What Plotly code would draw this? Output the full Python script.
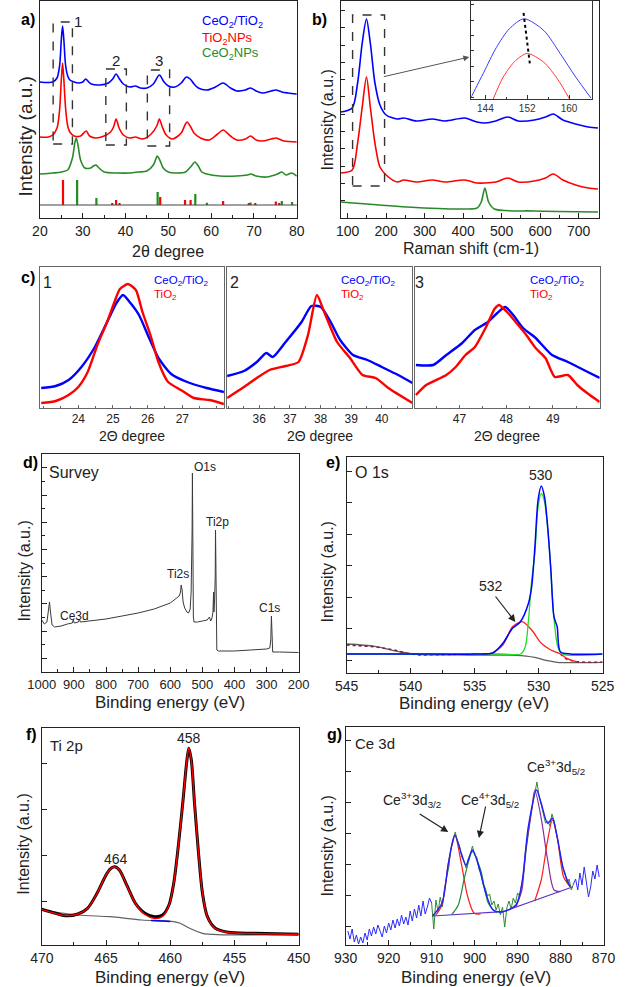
import plotly.graph_objects as go

# ---------------- DATA ----------------
# a) XRD patterns (2theta, intensity a.u.)
a_x_blue = [20,21,22,23,24,24.6,25.0,25.3,25.6,26.0,26.5,27,28,29,30,30.7,31.4,32,34,36,37.0,37.8,38.6,39.5,41,42.3,43.5,45,46.5,47.9,49,50,51.5,53,54.2,55.1,56,57,59,61,62.8,64.5,66,68,69.2,70.5,72,74,75.1,76.5,78,80]
a_blue = [136,135.5,135.5,136,140,152,178,192,178,153,142,138,136,135,136,139,136,134,133,135,139,144,139,134,131,132,130,130,134,143,136,132,131,135,141,139,134,130,128,131,135,130,127,128,130,127,125,127,128,126,125,124]
a_x_red = [20,22,23,24,24.6,25.0,25.3,25.6,26.0,26.5,27,28,29.5,30.8,31.6,33,35,36.5,37.2,37.8,38.5,39.5,41,42.3,44,46,47.3,47.9,48.6,49.5,51,53,54,54.4,55.1,56,57.5,59.5,61.5,62.8,64.5,66,68,69.2,70.5,72,74,75.2,77,80]
a_red = [81,81,83,90,108,138,155,138,110,92,86,82,82,87,82,80,82,86,91,99,90,83,80,81,79,84,92,99,91,83,79,85,94,96,92,85,80,78,84,88,82,78,79,82,78,77,79,80,77,76]
a_x_green = [20,23,25,26.5,27.6,28.2,28.5,28.9,29.5,30.5,31.8,32.5,33.1,33.8,35,38,41,43,45,46.5,47.0,47.4,48,48.8,50,52,54,55.4,56.2,57,57.8,59,62,66,68.5,69.3,70.5,73,75.5,76.5,77.5,78.8,80]
a_green = [44,45,46,48,60,76,80,73,58,50,50,52,53,50,46,45,45,46,47,53,58,62,58,50,46,45,46,52,56,52,46,44,42,42,43,44,42,41,44,46,43,45,42]
ref_base = 13
ref_ti_pos = [25.4,36.9,37.8,38.6,48.1,53.9,55.2,62.8,68.8,70.3,75.1,75.9]
ref_ti_h = [25,2,5,2,8,5,5,4,2,2,3.5,2]
ref_ce_pos = [28.7,33.2,47.5,56.3,59.0,69.2,76.5,78.9]
ref_ce_h = [25,7,13,11,2.3,2.5,4,3]
a_boxes = [[23.1,27.6,74,196],[35.4,40.2,73,149],[45.1,50.3,72,148]]
a_box_labels = [["1",29.0,196],["2",37.7,157],["3",47.8,157]]

# b) Raman spectra
b_x = [83,112,126,138,149,159,171,184,200,229,246,279,320,353,404,436,457,485,516,543,585,614,634,659,692,725,750]
b_blue = [106,110,135,175,199,175,135,113,103,99,100,97,99,97,100,96,95,97,101,97,98,101,104,98,94,91,90]
b_red = [45,48,75,111,141,111,75,51,43,36,38,36,38,36,38,35,35,36,40,36,37,40,44,38,33,30,29]
b_x_green = [83,254,400,436,447,456.5,466,481,585,750]
b_green = [16,11,9,10,16,30,16,9,7,6]
b_box = [113,196,32,203]
in_x_blue = [141.3,143.7,146.1,148.6,151.4,155.2,158.3,161.3,164.2]
in_blue = [2,27,52,71,81,69,46,22,1]
in_x_red = [145.5,147.4,149.8,152.0,155.2,157.7,160.1]
in_red = [0,22,39,46,37,21,0]
in_shift_x = [151.3,152.5]
in_shift_y = [87,36]

# c) zoomed XRD regions
c1_x_blue = [22.93,23.35,23.72,24.09,24.46,24.83,25.10,25.29,25.48,25.75,26.03,26.31,26.68,27.14,27.70,28.2]
c1_blue = [20,22,28,41,60,86,105,113,106,93,71,50,34,26,20,16]
c1_x_red = [22.93,23.35,23.72,24.0,24.27,24.55,24.83,25.01,25.20,25.43,25.66,25.85,26.08,26.31,26.59,26.96,27.33,27.79,28.2]
c1_red = [5,7,13,21,36,63,86,103,119,124,118,96,73,46,26,18,10,8,4]
c2_x_blue = [34.95,35.50,35.92,36.23,36.44,36.86,37.38,37.70,38.01,38.33,38.64,39.06,39.53,40.0,40.53,41.0]
c2_blue = [32,37,46,55,51,66,86,102,101,86,68,53,48,41,33,25]
c2_x_red = [34.95,35.50,35.92,36.34,36.86,37.28,37.59,37.88,38.12,38.54,38.96,39.37,39.80,40.21,41.0]
c2_red = [10,21,30,38,42,46,73,113,96,66,50,33,30,20,5]
c3_x_blue = [46.07,46.44,46.72,47.06,47.33,47.61,47.81,47.98,48.15,48.36,48.63,48.98,49.32,49.66,50.0]
c3_blue = [43,43,53,65,78,86,95,101,93,80,70,53,46,38,30]
c3_x_red = [46.07,46.29,46.72,46.92,47.13,47.33,47.57,47.75,47.85,47.93,48.02,48.22,48.43,48.63,48.84,49.04,49.32,49.52,49.73,50.0]
c3_red = [13,23,33,41,53,61,81,99,103,100,96,85,73,60,50,31,33,23,15,6]

# d) XPS survey
d_be = [1000,992,984,979,976,973,968,960,940,920,905,902,899,886,883,880,850,800,750,700,650,600,580,572,568,566,563,560,555,548,543,538,535,533,532,531,530,529,528,526,515,500,485,478,474,470,467,465,464,462,460,459,458,457,455,450,400,350,300,290,287,285,283,281,260,230,200]
d_int = [52,48,50,60,70,60,47,45,46,48,49,52,49,50,53,50,51,53,56,59,63,69,74,76,80,87,82,70,64,60,59,63,80,115,140,199,140,90,55,50,50,51,52,55,51,54,60,80,60,72,95,142,80,40,22,21,21,22,23,24,32,56,30,20,20,19.7,19.5]
d_labels = [["O1s",199,467],["Ti2p",212,522],["Ti2s",171,574],["Ce3d",63,616],["C1s",267,608]]

# e) O 1s
e_x_env = [545,540,535,533.54,532.79,532.04,531.42,530.79,530.54,530.29,530.04,529.79,529.54,529.29,529.04,528.80,528.55,528.30,527.5,525]
e_env = [19,19,19,20.3,29.7,44.7,51.3,69.7,86.3,126,173,187,176.3,146.3,103,56.3,46.3,21.3,19,19]
e_x_green = [545,533,531.4,531.04,530.79,530.54,530.29,530.04,529.79,529.54,529.17,528.80,528.50,528.17,525]
e_green = [19,19,19,26.3,53,93,119.7,166.3,179.7,171.3,126.3,55,26.3,19,19]
e_x_red = [534.5,533.79,532.79,532.04,531.29,530.54,529.79,529.04,528.30,527.80,527.05]
e_red = [19,19,28,46.3,51.3,43,29.7,23,19,14.7,11.3]
e_x_raw = [545,542.8,541.3,540.3,539.3,537,535,None,528.3,527.8,527.05,526.3,525]
e_raw = [28,26.3,23,19.7,18,18.5,19,None,19,13.7,11.3,10.7,10.7]
e_x_bg = [545,542.8,540.8,539.5,535.3,531.8,530.3,529.3,528.55,525]
e_bg = [29,26.7,21,18.7,18,17.7,15.7,12.3,10.7,10.7]

# f) Ti 2p
f_x = [470,468.93,468.18,467.19,466.44,465.70,465.07,464.70,464.33,463.96,463.33,462.71,461.97,461.22,460.60,460.10,459.73,459.35,458.98,458.73,458.56,458.36,458.11,457.8,457.49,457.11,456.49,455.50,453.51,450]
f_raw = [35.7,31.7,29.3,31,36.7,51.7,68.3,75.7,78.3,75,58.3,41.7,31.7,28.3,30,40,61.7,101.7,148,181.7,196.7,185,141.7,92,51.7,28.3,16.7,12.7,11.7,10.7]
f_fit = [35.7,31.5,29.5,31,36.5,51.5,68.5,75.5,78.3,75,58,41.5,30.5,26.5,28.5,39.5,61.5,101.5,148,182,197,185,141.5,92,51.5,28,16.5,12.5,11.5,10.7]
f_x_bg = [470,467.19,464.70,462.21,459.73,459.23,458.48,457.49,450]
f_bg = [35,30,28.3,25,23.3,21.7,16.7,11.7,10.7]
f_x_comp = [461.5,461.0,460.5,460.0]
f_comp = [24.5,24.2,23.9,23.6]

# g) Ce 3d
g_x_noise_l = [929.5,929.0,928.5,928.0,927.5,927.0,926.5,926.0,925.5,925.0,924.5,924.0,923.5,923.0,922.5,922.0,921.5,921.0,920.5,920.0,919.5,919.0,918.5,918.0,917.5,917.0,916.5,916.0,915.5,915.0,914.5,914.0,913.5,913.0,912.5,912.0,911.5,911.0,910.5,910.0]
g_noise_l = [14,6,16,3,10,1,8,2,12,5,16,9,18,11,20,13,8,19,12,22,15,25,17,26,19,30,21,28,20,34,24,36,27,40,29,44,31,38,47,42]
g_x_noise_m = [910.0,909.5,909.0,908.5,908.0,907.5,907.0,906.5,906.0,905.5,905.0,904.5,904.0,903.5,903.0,902.5,902.0,901.5,901.0,900.5,900.0,899.5,899.0,898.5,898.0,897.5,897.0,896.5,896.0,895.5,895.0,894.5,894.0,893.5,893.0,892.5,892.0,891.5,891.0,890.5,890.0,889.5,889.0,888.5,888.0,887.5,887.0,886.5,886.0,885.5,885.0,884.5,884.0,883.5,883.0,882.5,882.0,881.5,881.0,880.5,880.0,879.5,879.0,878.5,878.0,877.5,877.0]
g_noise_m = [42,16,45,33,48,38,57,66,78,96,103,113,104,99,88,84,77,86,91,99,90,88,76,71,60,57,49,51,40,44,35,41,30,38,18,37,44,36,47,42,52,49,63,74,95,112,128,140,150,163,149,140,132,122,124,119,131,124,112,100,92,78,73,62,66,55,61]
g_x_noise_r = [877.0,876.5,876.0,875.5,875.0,874.5,874.0,873.5,873.0,872.5,872.0,871.5,871.0]
g_noise_r = [61,66,55,72,60,78,63,48,58,74,66,80,68]
g_x_env = [909.8,907.6,906.1,904.6,903.1,902.0,900.5,899.0,897.5,895.7,893.4,890.4,889.0,887.5,885.6,884.5,883.0,881.9,880.8,879.3,877.8]
g_env = [29,41.7,81.7,110,91.7,80,95,78.3,53.3,35,33.3,40,61.7,118.3,155,141.7,121.7,126.7,108.3,75,58.3]
g_x_r1 = [909.0,907.6,906.1,904.6,903.1,901.6,900.1,898.6]
g_r1 = [30,40,81.7,110,81.7,48.3,31.7,31]
g_x_gc = [905.3,903.8,902.3,900.5,898.6,896.8,894.9]
g_gc = [30.5,40,68.3,93.3,75,41.7,32]
g_x_p = [890.4,889.0,888.2,886.7,886.0,884.5,883.0,881.5,880.0]
g_p = [38,55,91.7,135,155,126.7,85,55,53.3]
g_x_r2 = [886.0,884.5,883.0,881.9,880.8,879.3,877.8]
g_r2 = [44.3,65,105,125,108.3,68.3,58.3]
g_x_bg = [909.8,893.4,877.1]
g_bg = [29,33.3,58.3]

# ---------------- FIGURE ----------------
W, H = 628, 987
FONT = "Liberation Sans, Arial, sans-serif"
BLUE, RED, GREEN = "#0000ff", "#ff0000", "#2a8a2a"

def dx(x0, x1):
    return [x0 / W, x1 / W]

def dy(y0, y1):
    return [1 - y1 / H, 1 - y0 / H]

def P(x, y):
    return x / W, 1 - y / H

fig = go.Figure()

def line(x, y, n, color, width, shape="spline", dash=None, smoothing=0.8):
    sfx = "" if n == 1 else str(n)
    ln = dict(color=color, width=width, shape=shape, dash=dash)
    if shape == "spline":
        ln["smoothing"] = smoothing
    fig.add_trace(go.Scatter(x=x, y=y, xaxis="x" + sfx, yaxis="y" + sfx, mode="lines",
                             line=ln, hoverinfo="skip", showlegend=False,
                             connectgaps=False))

# a
line(a_x_blue, a_blue, 1, BLUE, 1.6)
line(a_x_red, a_red, 1, RED, 1.6)
line(a_x_green, a_green, 1, GREEN, 1.6)
for pos, hts, col in [(ref_ti_pos, ref_ti_h, RED), (ref_ce_pos, ref_ce_h, "#1e8c1e")]:
    xs, ys = [], []
    for p, v in zip(pos, hts):
        xs += [p, p, None]
        ys += [ref_base, ref_base + v, None]
    line(xs, ys, 1, col, 2.2, shape="linear")
# b
line(b_x, b_blue, 2, BLUE, 1.6)
line(b_x, b_red, 2, RED, 1.6)
line(b_x_green, b_green, 2, GREEN, 1.6)
# inset
line(in_x_blue, in_blue, 3, "#3a3aff", 1.0)
line(in_x_red, in_red, 3, "#ff3a3a", 1.0)
line(in_shift_x, in_shift_y, 3, "black", 2.0, shape="linear", dash="dot")
# c
for n, xb, yb, xr, yr in [(4, c1_x_blue, c1_blue, c1_x_red, c1_red),
                          (5, c2_x_blue, c2_blue, c2_x_red, c2_red),
                          (6, c3_x_blue, c3_blue, c3_x_red, c3_red)]:
    line(xb, yb, n, BLUE, 2.4, smoothing=0.6)
    line(xr, yr, n, RED, 2.4, smoothing=0.6)
# d
line(d_be, d_int, 7, "#3a3a3a", 1.0, shape="linear")
# e
line(e_x_bg, e_bg, 8, "#606060", 1.3)
line(e_x_raw, e_raw, 8, "#7a1f3d", 1.6, shape="linear", dash="dot")
line(e_x_red, e_red, 8, "#ff2020", 1.3)
line(e_x_green, e_green, 8, "#22dd22", 1.3)
line(e_x_env, e_env, 8, BLUE, 1.5)
# f
line(f_x_bg, f_bg, 9, "#606060", 1.2)
line(f_x_comp, f_comp, 9, BLUE, 1.5)
line(f_x, f_raw, 9, "black", 3.0)
line(f_x, f_fit, 9, RED, 1.4)
# g
line(g_x_noise_l, g_noise_l, 10, "#2a2aff", 1.0, shape="linear")
line(g_x_noise_r, g_noise_r, 10, "#2a2aff", 1.0, shape="linear")
line(g_x_noise_m, g_noise_m, 10, "#2e8b2e", 1.0, shape="linear")
line(g_x_bg, g_bg, 10, "#5a35c8", 1.2, shape="linear")
line(g_x_r1, g_r1, 10, "#ff1a1a", 1.2)
line(g_x_gc, g_gc, 10, "#1e8b3a", 1.2)
line(g_x_p, g_p, 10, "#8a2ba0", 1.2)
line(g_x_r2, g_r2, 10, "#ff1a1a", 1.2)
line(g_x_env, g_env, 10, "#2020ff", 1.4)

# ---------------- AXES ----------------
layout = dict(width=W, height=H, margin=dict(l=0, r=0, t=0, b=0),
              paper_bgcolor="white", plot_bgcolor="rgba(0,0,0,0)",
              showlegend=False, font=dict(family=FONT, color="#222"))

def axes(n, xd, yd, xkw, ykw, lc="#222"):
    sfx = "" if n == 1 else str(n)
    base = dict(showline=True, linecolor=lc, linewidth=1.1, mirror=True, zeroline=False,
                showgrid=False, ticks="inside", tickcolor=lc, fixedrange=True)
    xa = dict(base, domain=xd, anchor="y" + sfx)
    xa.update(xkw)
    ya = dict(base, domain=yd, anchor="x" + sfx, showticklabels=False)
    ya.update(ykw)
    layout["xaxis" + sfx] = xa
    layout["yaxis" + sfx] = ya

tf13 = dict(size=13, family=FONT, color="#222")
tf14 = dict(size=14, family=FONT, color="#222")
tf12 = dict(size=12, family=FONT, color="#222")
no_y = dict(ticks="")

axes(1, dx(27, 295), dy(1, 218),
     dict(range=[20, 80], dtick=10, ticklen=5, tickfont=tf14,
          minor=dict(dtick=5, ticks="inside", ticklen=3, tickcolor="#222")),
     dict(range=[0, 217], **no_y))
axes(2, dx(341, 610), dy(1, 218),
     dict(range=[82.6, 752], tick0=100, dtick=100, ticklen=5, tickfont=tf14,
          minor=dict(dtick=50, ticks="inside", ticklen=3, tickcolor="#222")),
     dict(range=[0, 217], tick0=17.3, dtick=17.3, ticklen=4))
axes(3, dx(477, 603), dy(1, 99),
     dict(range=[141.3, 164.4], tickvals=[144, 152, 160], ticklen=4,
          tickfont=dict(size=10, family=FONT, color="#333"),
          minor=dict(tickvals=[148, 156], ticks="inside", ticklen=2, tickcolor="#333")),
     dict(range=[0, 99], tick0=17.3, dtick=15.6, ticklen=3), lc="#333")
cgray = "#666"
for n, xd, rng, tv in [(4, dx(27.3, 219), [22.9, 28.2], [24, 25, 26, 27]),
                       (5, dx(222.3, 415.7), [34.95, 41.0], [36, 37, 38, 39, 40]),
                       (6, dx(418.3, 611), [46.05, 50.0], [47, 48, 49])]:
    axes(n, xd, dy(267, 408),
         dict(range=rng, tickvals=tv, ticklen=3, tickfont=tf12, tickcolor=cgray,
              minor=dict(dtick=0.5, ticks="inside", ticklen=2, tickcolor=cgray)),
         dict(range=[0, 141], **no_y), lc=cgray)
axes(7, dx(29, 297), dy(454, 672),
     dict(range=[1000, 200], dtick=100, ticklen=5, tickfont=tf13,
          minor=dict(dtick=50, ticks="inside", ticklen=3, tickcolor="#222")),
     dict(range=[0, 218], tick0=13.7, dtick=27.2, ticklen=5,
          minor=dict(tick0=0.1, dtick=13.6, ticks="inside", ticklen=3, tickcolor="#222")))
axes(8, dx(347, 614), dy(457, 673),
     dict(range=[545, 525], dtick=5, ticklen=5, tickfont=tf14,
          minor=dict(dtick=2.5, ticks="inside", ticklen=3, tickcolor="#222")),
     dict(range=[0, 216], tick0=13, dtick=31.5, ticklen=5))
axes(9, dx(29, 297), dy(728, 945),
     dict(range=[470, 450], dtick=5, ticklen=5, tickfont=tf14,
          minor=dict(dtick=2.5, ticks="inside", ticklen=3, tickcolor="#222")),
     dict(range=[0, 217], tick0=44, dtick=45.7, ticklen=5))
axes(10, dx(346, 615), dy(727, 945),
     dict(range=[930, 870], dtick=10, ticklen=5, tickfont=tf14,
          minor=dict(dtick=5, ticks="inside", ticklen=3, tickcolor="#222")),
     dict(range=[0, 218], tick0=19, dtick=31, ticklen=5))

# ---------------- SHAPES ----------------
shapes = []
for x0, x1, y0, y1 in a_boxes:
    shapes.append(dict(type="rect", xref="x", yref="y", x0=x0, x1=x1, y0=y0, y1=y1,
                       line=dict(color="#333", width=1.4, dash="dash")))
shapes.append(dict(type="rect", xref="x2", yref="y2", x0=b_box[0], x1=b_box[1],
                   y0=b_box[2], y1=b_box[3], line=dict(color="#333", width=1.4, dash="dash")))
shapes.append(dict(type="line", xref="x domain", yref="y", x0=0, x1=1, y0=ref_base, y1=ref_base,
                   line=dict(color="#444", width=1.2)))
layout["shapes"] = shapes

# ---------------- ANNOTATIONS ----------------
ann = []

def text(t, x, y, size=14, color="#222", xanchor="center", bold=False, angle=0):
    xx, yy = P(x, y)
    if bold:
        t = "<b>" + t + "</b>"
    ann.append(dict(text=t, x=xx, y=yy, xref="paper", yref="paper", showarrow=False,
                    xanchor=xanchor, yanchor="middle", textangle=angle,
                    font=dict(size=size, color=color, family=FONT)))

def arrow(xh, yh, xt, yt, color="#222", width=1.2):
    xx, yy = P(xh, yh)
    ann.append(dict(text="", x=xx, y=yy, xref="paper", yref="paper", showarrow=True,
                    ax=xt - xh, ay=yt - yh, axref="pixel", ayref="pixel",
                    arrowhead=2, arrowsize=1.2, arrowwidth=width, arrowcolor=color))

# panel letters
for t, x, y in [("a)", 15, 20), ("b)", 319, 19), ("c)", 15, 277), ("d)", 17, 463),
                ("e)", 333, 463), ("f)", 18, 734), ("g)", 334, 734)]:
    text(t, x, y, size=16, bold=True, color="black")

# a legend and box labels
text("CeO<sub>2</sub>/TiO<sub>2</sub>", 194, 22, size=13, color=BLUE, xanchor="left")
text("TiO<sub>2</sub>NPs", 194, 38, size=13, color=RED, xanchor="left")
text("CeO<sub>2</sub>NPs", 194, 54, size=13, color=GREEN, xanchor="left")
for lab, xv, yv in a_box_labels:
    ann.append(dict(text=lab, x=xv, y=yv, xref="x", yref="y", showarrow=False,
                    font=dict(size=15, color="#222", family=FONT)))

# axis titles
for x, y, s in [(13, 136, 19), (326, 120, 16), (10, 571, 16), (327, 572, 16), (9, 844, 16), (327, 846, 16)]:
    text("Intensity (a.u.)", x, y, size=s, angle=-90)
text("2\u03b8 degree", 161, 252, size=16)
text("Raman shift (cm-1)", 477, 248, size=16)
for x in [123, 319, 514]:
    text("2\u0398 degree", x, 436, size=14)
for x, y in [(163, 702), (480, 703), (163, 977), (482, 977)]:
    text("Binding energy (eV)", x, y, size=17)

# b arrow to inset
arrow(475, 57, 388, 77, color="#555", width=1.0)

# c labels
for num, nx, lx in [("1", 35, 144), ("2", 230, 339), ("3", 423, 536)]:
    text(num, nx, 282, size=16, xanchor="center")
    text("CeO<sub>2</sub>/TiO<sub>2</sub>", lx, 281, size=11.5, color=BLUE, xanchor="left")
    text("TiO<sub>2</sub>", lx, 295, size=11.5, color=RED, xanchor="left")

# d labels
text("Survey", 63, 473, size=16)
for lab, x, y in d_labels:
    text(lab, x, y, size=12)

# e labels
text("O 1s", 373, 473, size=16)
text("530", 550, 475, size=14)
text("532", 498, 586, size=14)
arrow(523, 622, 502, 595, width=1.2)

# f labels
text("Ti 2p", 55, 745, size=15)
text("458", 183, 738, size=14)
text("464", 106, 859, size=14)

# g labels
text("Ce 3d", 377, 743, size=15)
text("Ce<sup>3+</sup>3d<sub>5/2</sub>", 565, 767, size=14)
text("Ce<sup>3+</sup>3d<sub>3/2</sub>", 415, 800, size=14)
text("Ce<sup>4+</sup>3d<sub>5/2</sub>", 497, 800, size=14)
arrow(453, 832, 423, 813, width=1.2)
arrow(485, 838, 492, 805, width=1.2)

layout["annotations"] = ann
fig.update_layout(**layout)
fig.write_html("out.html")
